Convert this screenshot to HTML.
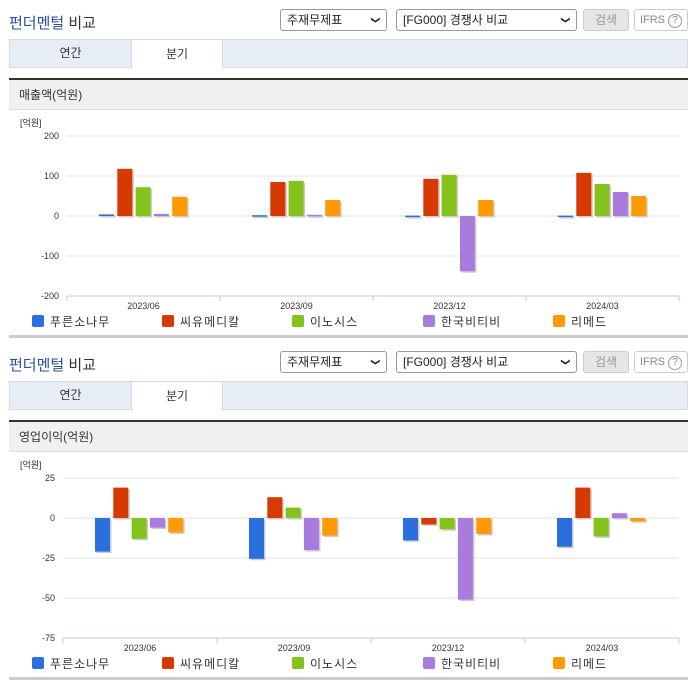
<!DOCTYPE html>
<html><head><meta charset="utf-8">
<style>
*{margin:0;padding:0;box-sizing:border-box}
body{width:696px;height:684px;background:#fff;position:relative;overflow:hidden;font-family:"Liberation Sans","Noto Sans CJK KR",sans-serif;color:#333}
.abs{position:absolute}
.title{font-size:15px;left:9px;color:#333}
.title b{color:#2a4c9c;font-weight:normal}
.sel{border:1px solid #999;border-radius:3px;height:22px;font-size:12px;line-height:20px;padding-left:6px;background:#fff;color:#222}
.sel .arr{position:absolute;right:6px;top:0;font-size:9px}
.btn{border:1px solid #ccc;border-radius:3px;height:22px;font-size:12px;line-height:20px;text-align:center;background:#e6e6e6;color:#999}
.btn2{background:#fff;color:#888;font-size:11px}
.tabs{left:9px;width:679px;height:29px;background:#e6edf7;border:1px solid #d3dbe6}
.tab{top:-1px;height:30px;font-size:12px;line-height:29px;text-align:center}
.tab.on{background:#fff;border:1px solid #d3dbe6;border-bottom:none}
.dark{left:9px;width:679px;height:3px;background:#333}
.hdr{left:9px;width:679px;height:30px;background:#f0f0f0;border-bottom:1px solid #ddd;font-size:12px;line-height:30px;padding-left:10px}
.bot{left:9px;width:679px;height:3px;background:#ccc}
</style></head><body>
<div id="root"></div>
<script>
const series=['푸른소나무','씨유메디칼','이노시스','한국비티비','리메드'];
const colors=['#2a6fdb','#d63a00','#84c21c','#a97bdc','#ff9a00'];
const categories=['2023/06','2023/09','2023/12','2024/03'];
const salesBlue=[4,2,1,1];
const salesRed=[118,85,93,108];
const salesGreen=[72,88,103,80];
const salesPurple=[5,3,-138,60];
const salesOrange=[48,40,40,50];
const salesTicks=[200,100,0,-100,-200];
const opBlue=[-21,-25.5,-14,-18];
const opRed=[19,13,-4,19];
const opGreen=[-13,6.5,-7,-11.5];
const opPurple=[-6,-20,-51,3];
const opOrange=[-9,-11,-10,-2];
const opTicks=[25,0,-25,-50,-75];

const root=document.getElementById('root');
function el(tag,cls,style,html,parent){const e=document.createElement(tag);if(cls)e.className=cls;e.setAttribute('style',style||'');if(html!=null)e.innerHTML=html;(parent||root).appendChild(e);return e;}
const NS='http://www.w3.org/2000/svg';
function sv(tag,attrs,parent){const e=document.createElementNS(NS,tag);for(const k in attrs)e.setAttribute(k,attrs[k]);parent.appendChild(e);return e;}

function block(oy,hdrText,data,ticks,x0,minV,maxV,chartName){
  let e;
  e=el('div','abs title','top:'+(oy+12)+'px','<b>펀더멘털</b> 비교');
  
  e=el('div','abs sel','left:280px;top:'+(oy+9)+'px;width:107px','주재무제표<span class="arr">&#10095;</span>');
  e.querySelector('.arr').style.transform='rotate(90deg)';
  
  e=el('div','abs sel','left:396px;top:'+(oy+9)+'px;width:181px','[FG000] 경쟁사 비교<span class="arr">&#10095;</span>');
  e.querySelector('.arr').style.transform='rotate(90deg)';
  
  e=el('div','abs btn','left:583px;top:'+(oy+9)+'px;width:46px','검색');
  
  e=el('div','abs btn btn2','left:634px;top:'+(oy+9)+'px;width:54px','IFRS <span style="display:inline-block;width:14px;height:14px;border:1px solid #999;border-radius:50%;line-height:12px;font-size:10px">?</span>');
  
  const tabs=el('div','abs tabs','top:'+(oy+39)+'px');
  
  e=el('div','abs tab','left:0;width:121px','연간',tabs);
  
  e=el('div','abs tab on','left:121px;width:92px;height:30px','분기',tabs);
  
  e=el('div','abs dark','top:'+(oy+78)+'px');
  
  e=el('div','abs hdr','top:'+(oy+80)+'px',hdrText);
  
  e=el('div','abs bot','top:'+(oy+335)+'px');
  

  const svg=document.createElementNS(NS,'svg');
  svg.setAttribute('width','696');svg.setAttribute('height','224');
  svg.setAttribute('style','position:absolute;left:0;top:'+(oy+110)+'px');
  
  root.appendChild(svg);
  const x1=679, gw=(x1-x0)/categories.length;
  const yTop=26, yBot=yTop+160;
  const y=v=>yTop+(maxV-v)/(maxV-minV)*160;
  let t=sv('text',{x:20,y:yTop-10,'font-size':9,fill:'#333'},svg);t.textContent='[억원]';
  
  ticks.forEach(v=>{
    const l=sv('line',{x1:x0,x2:x1,y1:y(v),y2:y(v),stroke:v===minV?'#c0c8d8':'#e2e2e2','stroke-width':1},svg);
    
    const tx=sv('text',{x:x0-8,y:y(v)+3,'font-size':9,fill:'#333','text-anchor':'end'},svg);tx.textContent=v;
    
  });
  for(let i=0;i<=categories.length;i++){
    const l=sv('line',{x1:x0+i*gw,x2:x0+i*gw,y1:yBot,y2:yBot+5,stroke:'#c0c8d8'},svg);
    
  }
  categories.forEach((c,i)=>{
    const tx=sv('text',{x:x0+(i+0.5)*gw,y:yBot+13,'font-size':9,fill:'#333','text-anchor':'middle'},svg);tx.textContent=c;
    
    data.forEach((arr,s)=>{
      const v=arr[i];const bx=x0+i*gw+32+s*18.3;
      const top=Math.min(y(v),y(0)),h=Math.max(1.5,Math.abs(y(v)-y(0)));
      const sh=sv('rect',{x:bx+1.5,y:top+1.5,width:15,height:h,fill:'#ccc'},svg);
      
      const r=sv('rect',{x:bx,y:top,width:15,height:h,fill:colors[s]},svg);
      
    });
  });
  const lx=[32,162,292,423,553];
  series.forEach((s,i)=>{
    const r=sv('rect',{x:lx[i],y:yBot+19,width:12,height:12,rx:2,fill:colors[i]},svg);
    
    const tx=sv('text',{x:lx[i]+18,y:yBot+30,'font-size':12,fill:'#333','letter-spacing':'1'},svg);tx.textContent=s;
    
  });
}
block(0,'매출액(억원)',[salesBlue,salesRed,salesGreen,salesPurple,salesOrange],salesTicks,67,-200,200,'sales-chart');
block(342,'영업이익(억원)',[opBlue,opRed,opGreen,opPurple,opOrange],opTicks,63,-75,25,'operating-profit-chart');
</script>
</body></html>
